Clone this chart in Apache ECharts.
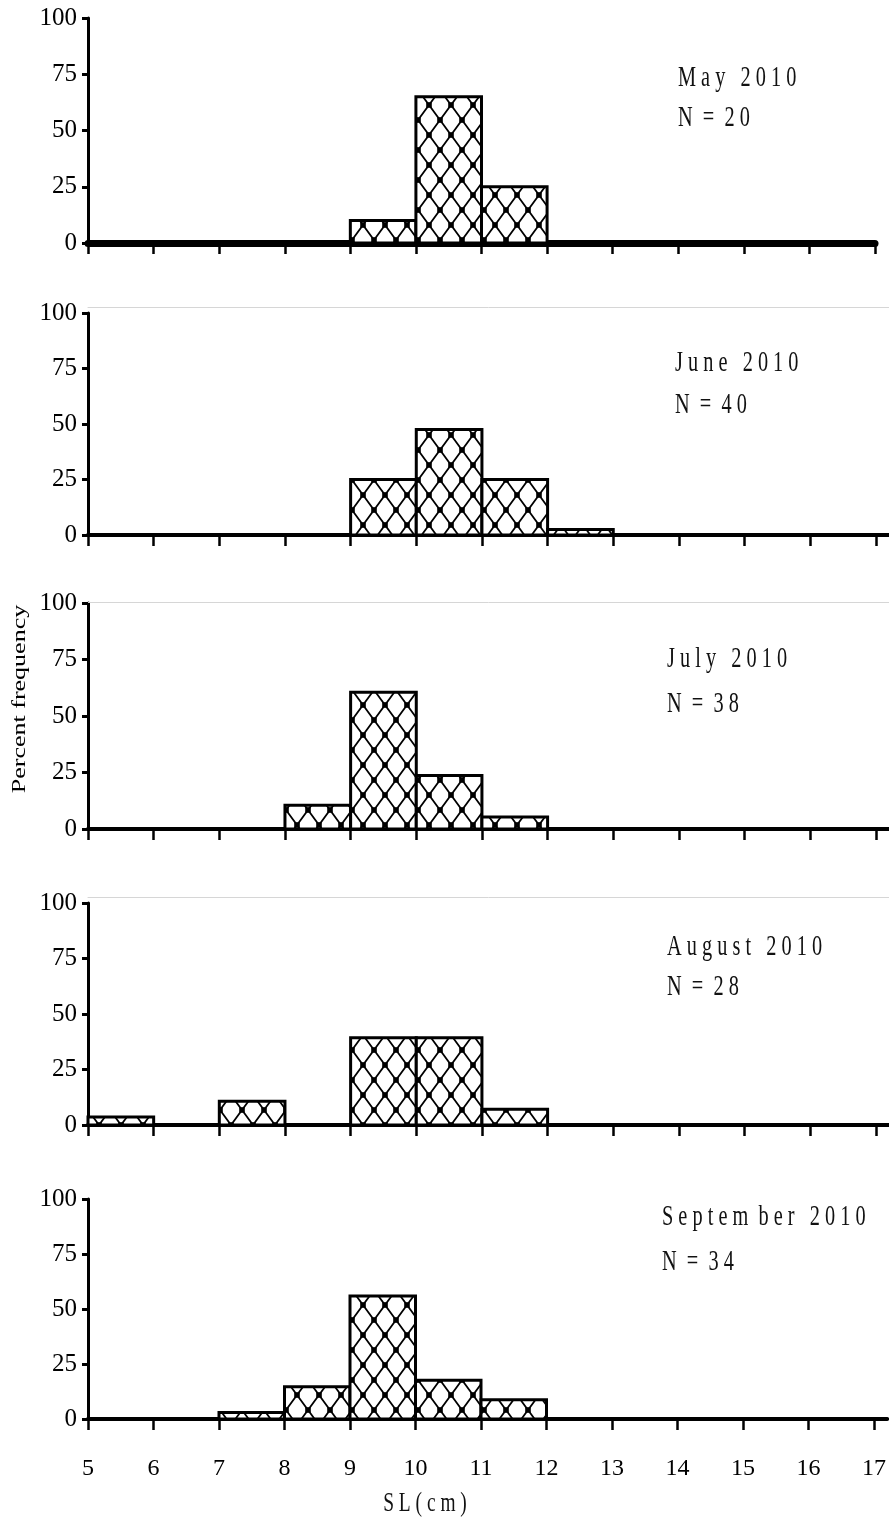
<!DOCTYPE html>
<html>
<head>
<meta charset="utf-8">
<title>SL frequency distributions, May–September 2010</title>
<script src="https://cdn.jsdelivr.net/npm/echarts@6/dist/echarts.min.js"></script>
<style>
  html, body { margin: 0; padding: 0; background: #fff; }
  #chart { width: 889px; height: 1519px; }
</style>
</head>
<body>
<div id="chart"></div>
<script>
// Length classes (cm): each bin runs from its start value to start + 1
const binStarts = [5, 6, 7, 8, 9, 10, 11, 12, 13, 14, 15, 16];
const xTickValues = [5, 6, 7, 8, 9, 10, 11, 12, 13, 14, 15, 16, 17];

// Percent frequency per length class, one array per monthly sample
const may2010       = [0,   0, 0,    0,    10,   65,   25,   0,   0, 0, 0, 0];
const june2010      = [0,   0, 0,    0,    25,   47.5, 25,   2.5, 0, 0, 0, 0];
const july2010      = [0,   0, 0,    10.5, 60.5, 23.7, 5.3,  0,   0, 0, 0, 0];
const august2010    = [3.6, 0, 10.7, 0,    39.3, 39.3, 7.1,  0,   0, 0, 0, 0];
const september2010 = [0,   0, 2.9,  14.7, 55.9, 17.6, 8.8,  0,   0, 0, 0, 0];

const monthTitles = [
  'M a y   2 0 1 0',
  'J u n e   2 0 1 0',
  'J u l y   2 0 1 0',
  'A u g u s t   2 0 1 0',
  'S e p t e m  b e r   2 0 1 0'
];
const sampleSizes = ['N  =  2 0', 'N  =  4 0', 'N  =  3 8', 'N  =  2 8', 'N  =  3 4'];

const yAxisTitle = 'Percent frequency';
const xAxisTitle = 'S L ( c m )';

// Panel geometry (pixels) and per-panel styling
const panels = [
  { values: may2010,       top: 18,   height: 225, right: 14, xMax: 17,   baseWidth: 7, rule: null, tx: 678, ty: 78,   ny: 118 },
  { values: june2010,      top: 313,  height: 222, right: 0,  xMax: 17.2, baseWidth: 4, rule: 6,    tx: 675, ty: 363,  ny: 405 },
  { values: july2010,      top: 603,  height: 226, right: 0,  xMax: 17.2, baseWidth: 4, rule: 1,    tx: 667, ty: 659,  ny: 704 },
  { values: august2010,    top: 903,  height: 222, right: 0,  xMax: 17.2, baseWidth: 4, rule: 6,    tx: 667, ty: 947,  ny: 987 },
  { values: september2010, top: 1199, height: 220, right: 0,  xMax: 17.2, baseWidth: 4, rule: null, tx: 662, ty: 1217, ny: 1262 }
];

const serif = '"Liberation Serif", "Times New Roman", serif';

// Diamond lattice fill with square knots at each crossing
function makeLatticeTile() {
  const w = 22, h = 30;
  const c = document.createElement('canvas');
  c.width = w; c.height = h;
  const g = c.getContext('2d');
  g.fillStyle = '#fff';
  g.fillRect(0, 0, w, h);
  g.strokeStyle = '#000';
  g.lineWidth = 1.8;
  g.beginPath();
  g.moveTo(0, 0); g.lineTo(w, h);
  g.moveTo(w, 0); g.lineTo(0, h);
  g.stroke();
  g.fillStyle = '#000';
  const d = 2.8;
  [[0, 0], [w, 0], [0, h], [w, h], [w / 2, h / 2]].forEach(function (p) {
    g.fillRect(p[0] - d, p[1] - d, 2 * d, 2 * d);
  });
  return c;
}
const latticeFill = { image: makeLatticeTile(), repeat: 'repeat' };

function renderBin(params, api) {
  const topLeft = api.coord([api.value(0), api.value(2)]);
  const bottomRight = api.coord([api.value(1), 0]);
  return {
    type: 'rect',
    shape: {
      x: topLeft[0],
      y: topLeft[1],
      width: bottomRight[0] - topLeft[0],
      height: bottomRight[1] - topLeft[1]
    },
    style: { fill: latticeFill, stroke: '#000', lineWidth: 3 }
  };
}

const grid = [];
const xAxis = [];
const yAxis = [];
const series = [];
const graphics = [];

panels.forEach(function (p, i) {
  const isLast = i === panels.length - 1;
  grid.push({ left: 88, right: p.right, top: p.top, height: p.height, containLabel: false });

  xAxis.push({
    type: 'value',
    gridIndex: i,
    position: 'bottom',
    min: 5,
    max: p.xMax,
    interval: 1,
    axisLine: { show: true, onZero: false, lineStyle: { color: '#000', width: p.baseWidth } },
    axisTick: { show: true, inside: false, length: 11, customValues: xTickValues, lineStyle: { color: '#000', width: 2.5 } },
    axisLabel: {
      show: isLast,
      showMaxLabel: p.xMax === 17,
      hideOverlap: false,
      margin: 38,
      color: '#000',
      fontFamily: serif,
      fontSize: 24,
      formatter: function (v) { return xTickValues.indexOf(v) >= 0 ? String(v) : ''; }
    },
    splitLine: { show: false }
  });

  if (p.rule !== null) {
    // thin grey rule along the top of the panel
    xAxis.push({
      type: 'value',
      gridIndex: i,
      position: 'top',
      offset: p.rule,
      min: 5,
      max: p.xMax,
      axisLine: { show: true, onZero: false, lineStyle: { color: '#d6d6d6', width: 1 } },
      axisTick: { show: false },
      axisLabel: { show: false },
      splitLine: { show: false }
    });
  }

  yAxis.push({
    type: 'value',
    gridIndex: i,
    min: 0,
    max: 100,
    interval: 25,
    axisLine: { show: true, onZero: false, lineStyle: { color: '#000', width: 3 } },
    axisTick: { show: true, inside: false, length: 6, lineStyle: { color: '#000', width: 3 } },
    axisLabel: { margin: 11, color: '#000', fontFamily: serif, fontSize: 25 },
    splitLine: { show: false }
  });

  const bins = binStarts
    .map(function (s, k) { return [s, s + 1, p.values[k]]; })
    .filter(function (d) { return d[2] > 0; });

  series.push({
    type: 'custom',
    name: monthTitles[i],
    xAxisIndex: xAxis.length - (p.rule !== null ? 2 : 1),
    yAxisIndex: i,
    renderItem: renderBin,
    encode: { x: [0, 1], y: 2 },
    data: bins,
    z: 3
  });

  graphics.push({
    type: 'text', x: p.tx, y: p.ty, scaleX: 0.7,
    style: { text: monthTitles[i], font: '29px ' + serif, fill: '#111',
             align: 'left', verticalAlign: 'middle', textAlign: 'left', textVerticalAlign: 'middle' }
  });
  graphics.push({
    type: 'text', x: p.tx, y: p.ny, scaleX: 0.7,
    style: { text: sampleSizes[i], font: '29px ' + serif, fill: '#111',
             align: 'left', verticalAlign: 'middle', textAlign: 'left', textVerticalAlign: 'middle' }
  });
});

graphics.push({
  type: 'text', x: 425, y: 1504, scaleX: 0.72,
  style: { text: xAxisTitle, font: '27px ' + serif, fill: '#111',
           align: 'center', verticalAlign: 'middle', textAlign: 'center', textVerticalAlign: 'middle' }
});
graphics.push({
  type: 'text', x: 20, y: 699, rotation: Math.PI / 2, scaleY: 0.75,
  style: { text: yAxisTitle, font: '26px ' + serif, fill: '#000',
           align: 'center', verticalAlign: 'middle', textAlign: 'center', textVerticalAlign: 'middle' }
});

const chart = echarts.init(document.getElementById('chart'), null, { renderer: 'canvas' });
chart.setOption({
  backgroundColor: '#fff',
  animation: false,
  grid: grid,
  xAxis: xAxis,
  yAxis: yAxis,
  series: series,
  graphic: { elements: graphics }
});
</script>
</body>
</html>
